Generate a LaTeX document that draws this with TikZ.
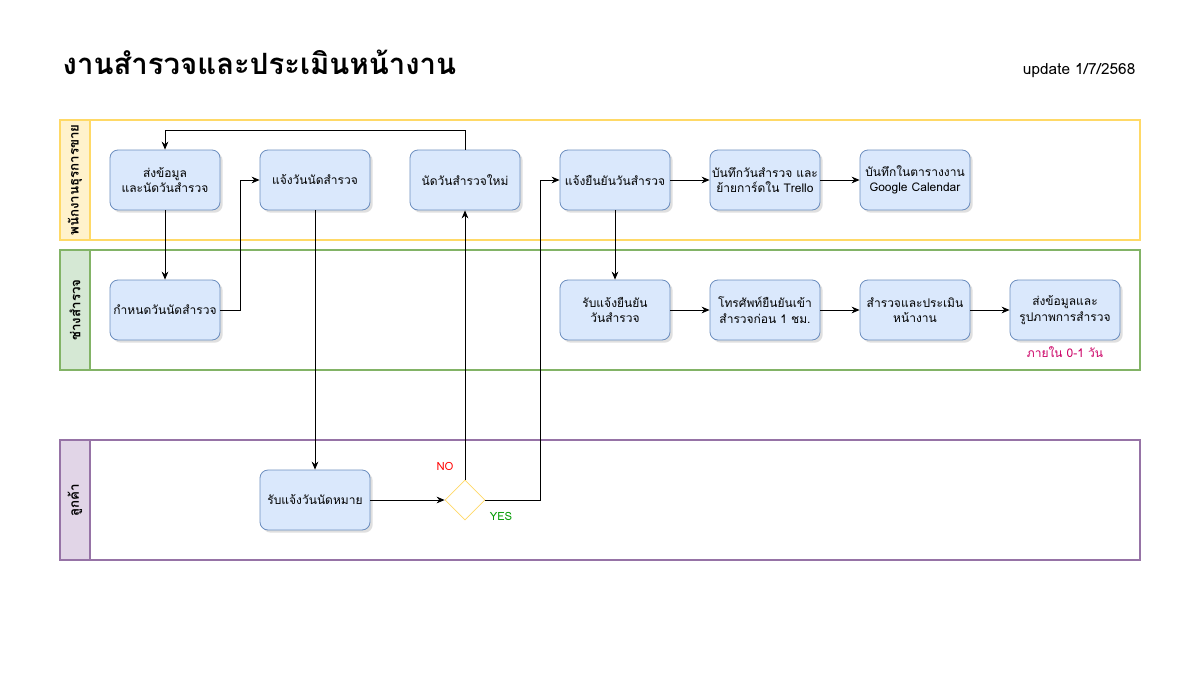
\documentclass[tikz,border=0pt]{standalone}
\usepackage{fontspec}
\setmainfont[Script=Thai]{Loma}
\usetikzlibrary{arrows.meta,shapes.geometric,shadows}
\definecolor{boxfill}{HTML}{DAE8FC}
\definecolor{boxdraw}{HTML}{6C8EBF}
\definecolor{yfill}{HTML}{FFF2CC}
\definecolor{ydraw}{HTML}{FFD966}
\definecolor{gfill}{HTML}{D5E8D4}
\definecolor{gdraw}{HTML}{82B366}
\definecolor{pfill}{HTML}{E1D5E7}
\definecolor{pdraw}{HTML}{9673A6}
\definecolor{diadraw}{HTML}{FFD966}
\definecolor{notecol}{HTML}{CC0066}
\definecolor{yescol}{HTML}{009900}
\tikzset{
  stepbox/.style={draw=boxdraw, fill=boxfill, rounded corners=6pt, minimum width=82.5pt, minimum height=45pt, align=center, font=\fontsize{9}{11.5}\selectfont, inner sep=1pt, line width=0.6pt, drop shadow={opacity=0.25, shadow xshift=2pt, shadow yshift=-2pt}},
  lane/.style={line width=1.2pt},
  lanelabel/.style={rotate=90, font=\bfseries\fontsize{10}{12}\selectfont},
  conn/.style={-{Stealth[length=6pt,width=5pt]}, line width=0.6pt},
  dec/.style={draw=diadraw, fill=white, diamond, minimum width=30pt, minimum height=30pt, inner sep=0pt, line width=0.6pt}
}
\begin{document}
\begin{tikzpicture}[x=0.75pt,y=-0.75pt]
\useasboundingbox (0,0) rectangle (1200,700);
% title
\node[anchor=west, font=\bfseries\fontsize{22}{25}\selectfont] (title) at (58,62) {งานสำรวจและประเมินหน้างาน};
\node[anchor=east, font=\fontsize{11.5}{13}\selectfont] (upd) at (1140,71) {update 1/7/2568};
% lanes
\draw[lane, draw=ydraw, fill=white] (60,120) rectangle (1140,240);
\draw[lane, draw=ydraw, fill=yfill] (60,120) rectangle (90,240);
\node[lanelabel] (l1) at (75,180) {พนักงานธุรการขาย};
\draw[lane, draw=gdraw, fill=white] (60,250) rectangle (1140,370);
\draw[lane, draw=gdraw, fill=gfill] (60,250) rectangle (90,370);
\node[lanelabel] (l2) at (75,310) {ช่างสำรวจ};
\draw[lane, draw=pdraw, fill=white] (60,440) rectangle (1140,560);
\draw[lane, draw=pdraw, fill=pfill] (60,440) rectangle (90,560);
\node[lanelabel] (l3) at (75,500) {ลูกค้า};
% lane 1 boxes
\node[stepbox] (a1) at (165,180) {ส่งข้อมูล\\และนัดวันสำรวจ};
\node[stepbox] (a2) at (315,180) {แจ้งวันนัดสำรวจ};
\node[stepbox] (a3) at (465,180) {นัดวันสำรวจใหม่};
\node[stepbox] (a4) at (615,180) {แจ้งยืนยันวันสำรวจ};
\node[stepbox] (a5) at (765,180) {บันทึกวันสำรวจ และ\\ย้ายการ์ดใน Trello};
\node[stepbox] (a6) at (915,180) {บันทึกในตารางงาน\\Google Calendar};
% lane 2 boxes
\node[stepbox] (b1) at (165,310) {กำหนดวันนัดสำรวจ};
\node[stepbox] (b2) at (615,310) {รับแจ้งยืนยัน\\วันสำรวจ};
\node[stepbox] (b3) at (765,310) {โทรศัพท์ยืนยันเข้า\\สำรวจก่อน 1 ชม.};
\node[stepbox] (b4) at (915,310) {สำรวจและประเมิน\\หน้างาน};
\node[stepbox] (b5) at (1065,310) {ส่งข้อมูลและ\\รูปภาพการสำรวจ};
\node[text=notecol, font=\fontsize{9}{11}\selectfont] (note) at (1065,352) {ภายใน 0-1 วัน};
% lane 3
\node[stepbox] (c1) at (315,500) {รับแจ้งวันนัดหมาย};
\node[dec] (d) at (465,500) {};
\node[text=red, font=\fontsize{8.5}{10}\selectfont] (no) at (445,466) {NO};
\node[text=yescol, font=\fontsize{8.5}{10}\selectfont] (yes) at (501,516) {YES};
% connectors
\draw[conn] (a1) -- (b1);
\draw[conn] (b1.east) -- ++(20,0) |- (a2.west);
\draw[conn] (a2) -- (c1);
\draw[conn] (c1) -- (d.west);
\draw[conn] (d.north) -- (a3.south);
\coordinate (loopA) at (465,130);
\coordinate (loopB) at (165,130);
\draw[conn] (a3.north) -- (loopA) -- (loopB) -- (a1.north);
\draw[conn] (d.east) -- ++(55,0) |- (a4.west);
\draw[conn] (a4) -- (a5);
\draw[conn] (a5) -- (a6);
\draw[conn] (a4) -- (b2);
\draw[conn] (b2) -- (b3);
\draw[conn] (b3) -- (b4);
\draw[conn] (b4) -- (b5);
\end{tikzpicture}
\end{document}
